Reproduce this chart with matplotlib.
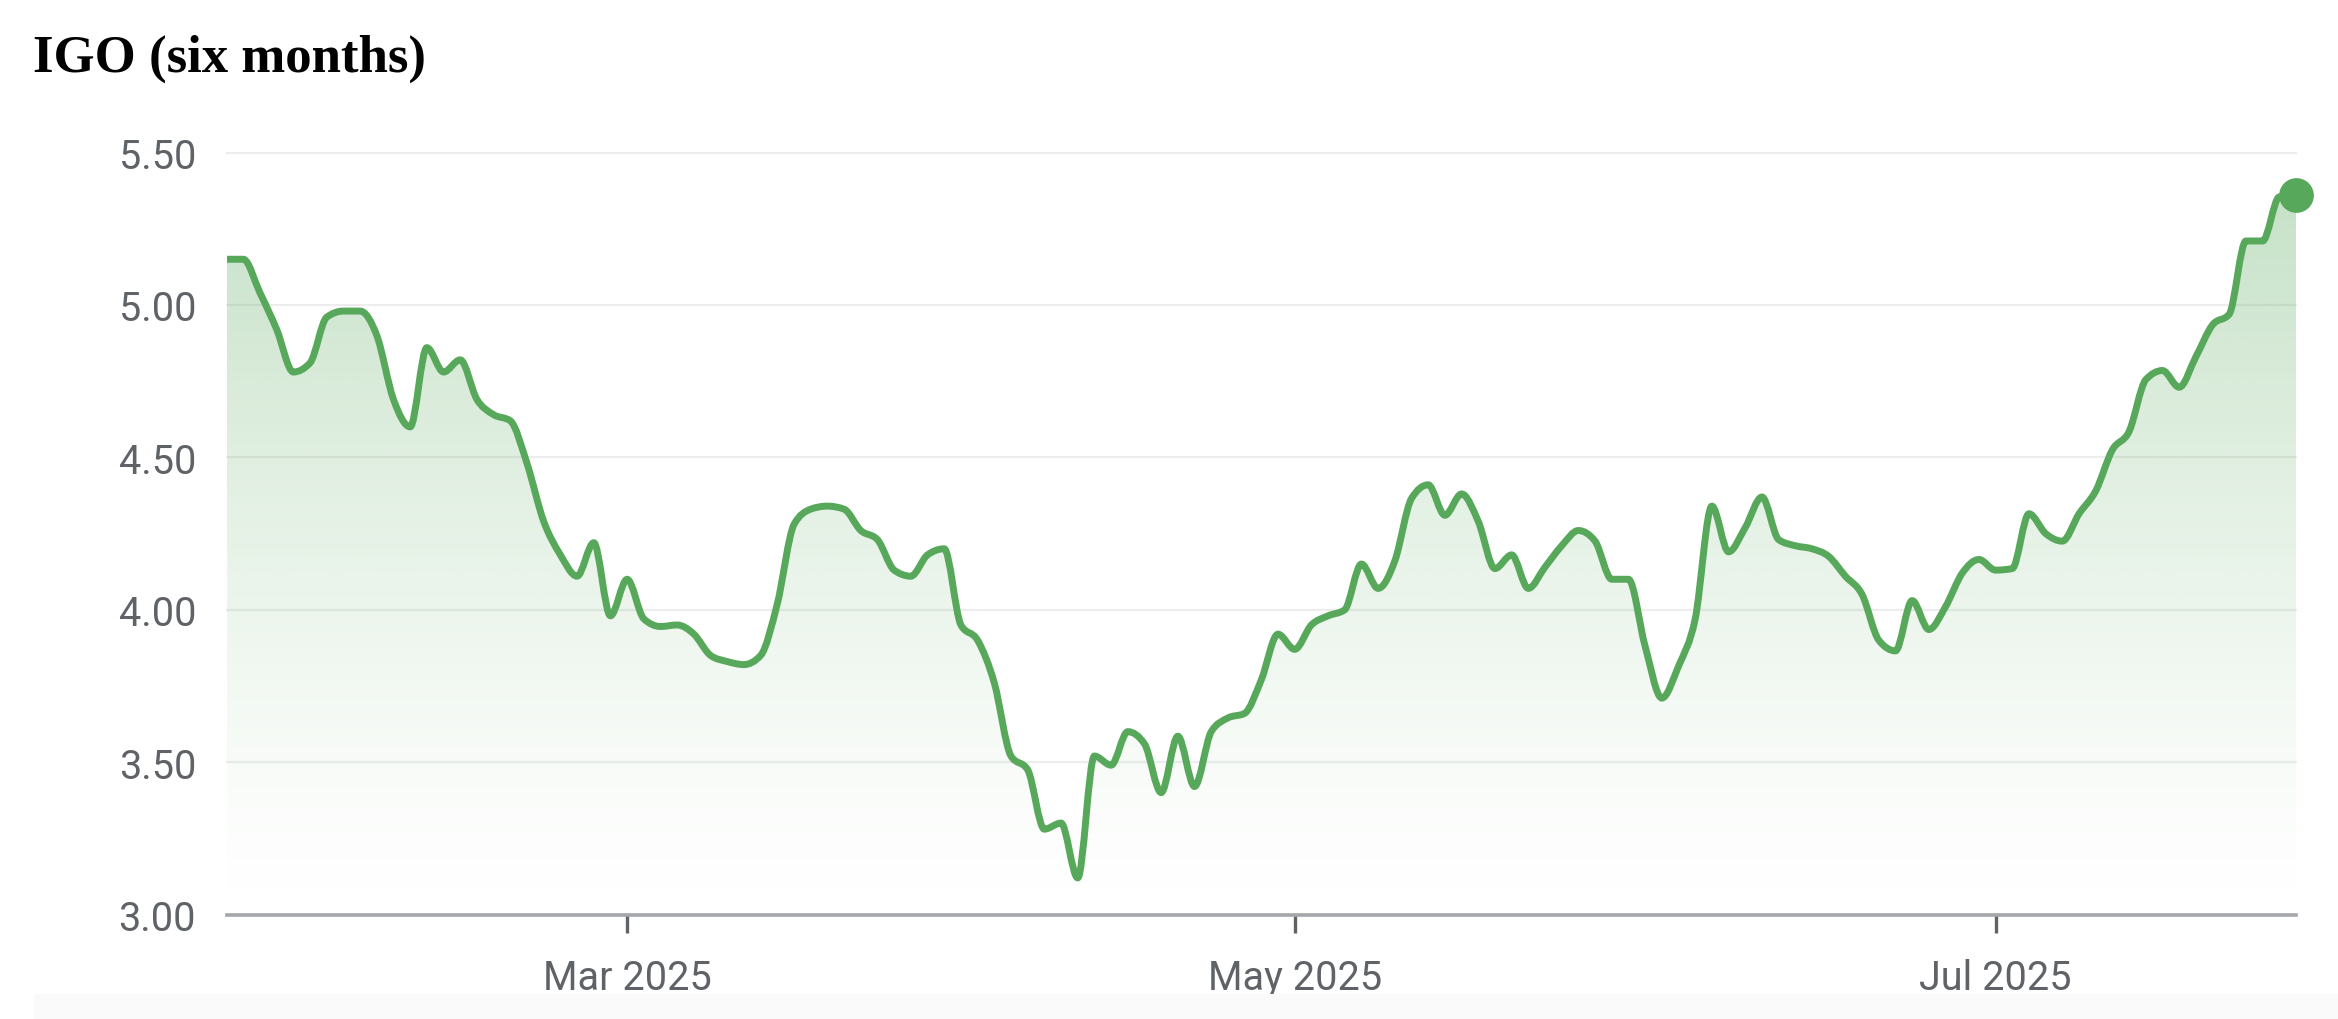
import numpy as np
import pandas as pd
import matplotlib
matplotlib.use('Agg')
import matplotlib.pyplot as plt
from matplotlib.path import Path
from matplotlib.patches import PathPatch, Rectangle

# =============================================================================
# Data: IGO daily closes (A$), ASX trading days 28 Jan 2025 - 25 Jul 2025
# =============================================================================
start_date = '2025-01-28'
end_date = '2025-07-25'
asx_holidays = ['2025-04-18', '2025-04-21', '2025-04-25', '2025-06-09']

closes = [
    5.15, 5.15, 5.04, 4.92, 4.78, 4.81, 4.96, 4.98, 4.98, 4.90,
    4.69, 4.60, 4.86, 4.78, 4.82, 4.69, 4.64, 4.62, 4.48, 4.29,
    4.18, 4.11, 4.22, 3.98, 4.10, 3.97, 3.945, 3.95, 3.92, 3.85,
    3.83, 3.82, 3.85, 4.02, 4.28, 4.33, 4.34, 4.33, 4.26, 4.23,
    4.13, 4.11, 4.18, 4.20, 3.95, 3.90, 3.76, 3.52, 3.475, 3.28,
    3.30, 3.12, 3.52, 3.49, 3.60, 3.56, 3.40, 3.585, 3.42, 3.60,
    3.645, 3.66, 3.77, 3.92, 3.87, 3.95, 3.98, 4.00, 4.15, 4.07,
    4.16, 4.365, 4.41, 4.31, 4.38, 4.29, 4.135, 4.18, 4.07, 4.14,
    4.21, 4.26, 4.225, 4.10, 4.10, 3.88, 3.71, 3.815, 3.97, 4.34,
    4.19, 4.27, 4.37, 4.23, 4.21, 4.20, 4.175, 4.11, 4.05, 3.90,
    3.865, 4.03, 3.935, 4.01, 4.12, 4.165, 4.13, 4.135, 4.315, 4.25,
    4.225, 4.315, 4.39, 4.525, 4.585, 4.755, 4.785, 4.73, 4.83, 4.935,
    4.97, 5.21, 5.21, 5.355, 5.36,
]

y_ticks = [3.0, 3.5, 4.0, 4.5, 5.0, 5.5]
tick_months = ['2025-03-01', '2025-05-01', '2025-07-01']
title = 'IGO (six months)'

GREEN = '#58a85b'
GRAY_TXT = '#5f6368'

# Trading-day calendar: chart x axis is spaced by trading day, not calendar day
dates = pd.bdate_range(start_date, end_date, freq='C', holidays=asx_holidays)
y = np.array(closes)
x = np.arange(len(dates), dtype=float)
tick_idx = [int(np.argmax(dates >= pd.Timestamp(m))) for m in tick_months]
tick_labels = [dates[i].strftime('%b %Y') for i in tick_idx]


def monotone_bezier(xs, ys):
    """Vertices/codes of a monotone-x cubic curve through the points."""
    h = np.diff(xs)
    s = np.diff(ys) / h
    m = np.zeros_like(ys)
    s0, s1 = s[:-1], s[1:]
    p = (s0 * h[1:] + s1 * h[:-1]) / (h[:-1] + h[1:])
    m[1:-1] = (np.sign(s0) + np.sign(s1)) * np.minimum.reduce(
        [np.abs(s0), np.abs(s1), 0.5 * np.abs(p)])
    m[0] = (3 * s[0] - m[1]) / 2
    m[-1] = (3 * s[-1] - m[-2]) / 2
    verts = [(xs[0], ys[0])]
    codes = [Path.MOVETO]
    for i in range(len(xs) - 1):
        d = h[i] / 3
        verts += [(xs[i] + d, ys[i] + m[i] * d),
                  (xs[i + 1] - d, ys[i + 1] - m[i + 1] * d),
                  (xs[i + 1], ys[i + 1])]
        codes += [Path.CURVE4] * 3
    return verts, codes


# =============================================================================
# Figure
# =============================================================================
W, H = 2338, 1020
fig = plt.figure(figsize=(W / 100, H / 100), dpi=100)
fig.patch.set_facecolor('white')
fig.patches.append(Rectangle((34 / W, 0), 1, 25 / H, transform=fig.transFigure,
                             facecolor='#fafafa', edgecolor='none', zorder=0))

ax = fig.add_axes([226.6 / W, 1 - 915.5 / H, (2296 - 226.6) / W, (915.5 - 153.6) / H])
ax.set_facecolor('none')
ax.set_xlim(x[0], x[-1])
ax.set_ylim(3.0, 5.5)

verts, codes = monotone_bezier(x, y)

# gradient fill under the line
fill_verts = verts + [(x[-1], 3.0), (x[0], 3.0), (x[0], y[0])]
fill_codes = codes + [Path.LINETO, Path.LINETO, Path.CLOSEPOLY]
fill_patch = PathPatch(Path(fill_verts, fill_codes), facecolor='none',
                       edgecolor='none', transform=ax.transData)
ax.add_patch(fill_patch)
top = y.max()
f = np.linspace(0, 1, 256)[:, None]
grad = np.zeros((256, 1, 4))
grad[..., :3] = matplotlib.colors.to_rgb(GREEN)
grad[..., 3] = 0.34 * f ** 1.3
img = ax.imshow(grad, extent=[x[0], x[-1], 3.0, top], origin='lower',
                aspect='auto', zorder=1, interpolation='bilinear')
img.set_clip_path(fill_patch)

# price line and end marker
ax.add_patch(PathPatch(Path(verts, codes), facecolor='none', edgecolor=GREEN,
                       linewidth=5, capstyle='round', joinstyle='round', zorder=3))
ax.plot(x[-1], y[-1], 'o', color=GREEN, markersize=24, zorder=4, clip_on=False)

# axes styling
ax.set_yticks(y_ticks)
ax.set_yticklabels([f'{v:.2f}' for v in y_ticks])
ax.set_xticks(tick_idx)
ax.set_xticklabels(tick_labels)
ax.grid(axis='y', color='#ededed', linewidth=1.6)
ax.set_axisbelow(True)
for gl in ax.get_ygridlines():
    gl.set_clip_on(False)
for side in ['top', 'right', 'left']:
    ax.spines[side].set_visible(False)
ax.spines['bottom'].set_color('#a3a6aa')
ax.spines['bottom'].set_linewidth(2.6)
ax.spines['bottom'].set_zorder(5)
ax.tick_params(axis='y', length=0, pad=22, labelsize=28.5, labelcolor=GRAY_TXT)
ax.tick_params(axis='x', direction='out', length=13, width=2.4, color=GRAY_TXT,
               pad=18, labelsize=28.5, labelcolor=GRAY_TXT)
for lab in ax.get_xticklabels() + ax.get_yticklabels():
    lab.set_fontfamily('Roboto')

fig.text(33 / W, 1 - 72 / H, title, fontsize=38, fontweight='bold',
         fontfamily='Liberation Serif', color='black', va='baseline', ha='left')

fig.savefig('out.png', dpi=100, facecolor='white')
